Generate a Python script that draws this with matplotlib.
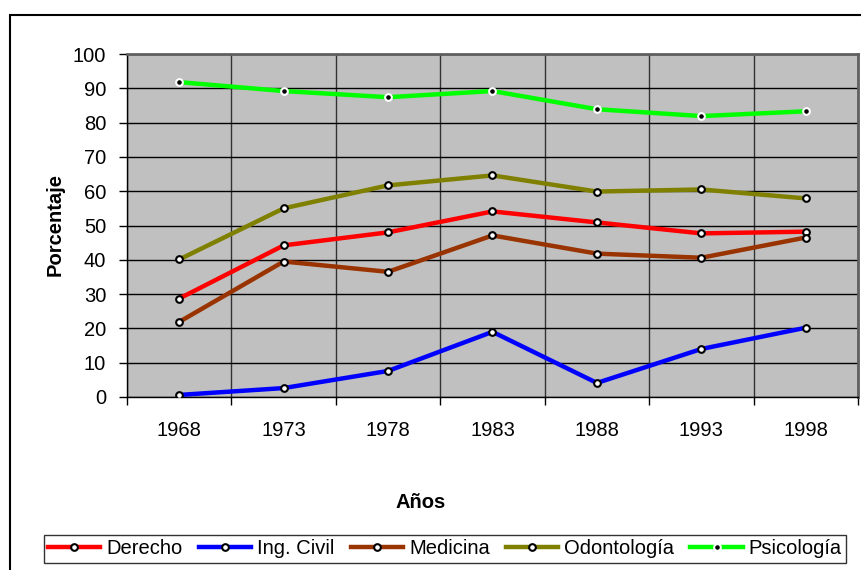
import matplotlib.pyplot as plt
import numpy as np

plt.rcParams['font.family'] = ['Liberation Sans', 'DejaVu Sans']

years = ['1968', '1973', '1978', '1983', '1988', '1993', '1998']
derecho = [28.7, 44.2, 48.0, 54.1, 50.9, 47.7, 48.2]
ing_civil = [0.6, 2.6, 7.6, 19.0, 4.1, 14.0, 20.2]
medicina = [21.9, 39.5, 36.5, 47.1, 41.8, 40.6, 46.5]
odontologia = [40.1, 55.0, 61.7, 64.6, 59.9, 60.5, 57.9]
psicologia = [91.8, 89.2, 87.4, 89.2, 83.9, 81.9, 83.3]

series = [
    ('Derecho', derecho, '#ff0000'),
    ('Ing. Civil', ing_civil, '#0000ff'),
    ('Medicina', medicina, '#993300'),
    ('Odontología', odontologia, '#808000'),
    ('Psicología', psicologia, '#00ff00'),
]

fig = plt.figure(figsize=(8.61, 5.70), dpi=100)
ax = fig.add_axes([127/861, 1-397/570, (858-127)/861, (397-54)/570])
ax.set_facecolor('#c0c0c0')

x = np.arange(len(years))
for name, vals, col in series:
    if name == 'Psicología':
        ax.plot(x, vals, color=col, lw=3.2, marker='o', ms=4.8,
                mfc='black', mec='white', mew=1.5, label=name, zorder=3)
    else:
        ax.plot(x, vals, color=col, lw=3.2, marker='o', ms=4.8,
                mfc='white', mec='black', mew=1.5, label=name, zorder=3)

ax.set_xlim(-0.5, len(years) - 0.5)
ax.set_ylim(0, 100)
ax.set_yticks(np.arange(0, 101, 10))
ax.set_xticks(x)
ax.set_xticklabels(years)
ax.set_xticks(np.arange(-0.5, len(years), 1), minor=True)
ax.tick_params(axis='x', which='major', length=0, pad=17, labelsize=14.5)
ax.tick_params(axis='x', which='minor', length=6, direction='out', width=1)
ax.tick_params(axis='y', length=6, direction='out', width=1, labelsize=14.5, pad=9)
ax.grid(axis='y', color='black', lw=1)
ax.grid(axis='x', which='minor', color='#333333', lw=1)
ax.set_axisbelow(True)
for s in ax.spines.values():
    s.set_color('#606060')
    s.set_linewidth(2)
ax.spines['left'].set_color('black')
ax.spines['left'].set_linewidth(1)
ax.spines['bottom'].set_color('black')
ax.spines['bottom'].set_linewidth(1)

fig.text(421/861, 1-503/570, 'Años', ha='center', va='center',
         fontsize=14.5, fontweight='bold')
fig.text(55/861, 1-225/570, 'Porcentaje', ha='center', va='center',
         rotation=90, fontsize=14.5, fontweight='bold')

leg = fig.legend(loc='center', bbox_to_anchor=(445/861, 1-549/570), ncol=5,
                 fontsize=14.5, frameon=True, fancybox=False, edgecolor='black',
                 handlelength=2.6, handletextpad=0.3, columnspacing=0.8,
                 borderpad=0.2, borderaxespad=0)
leg.get_frame().set_linewidth(1)

# outer chart border
fig.add_artist(plt.Rectangle((10/861, -0.1), 1.0, 1-15/570 + 0.1,
                             transform=fig.transFigure, fill=False,
                             edgecolor='black', lw=1.5))

fig.savefig('out.png', dpi=100)
